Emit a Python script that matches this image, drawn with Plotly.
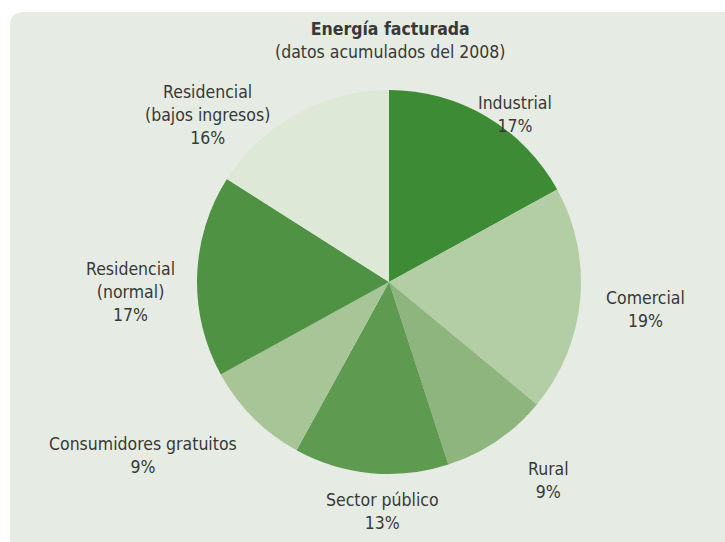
import plotly.graph_objects as go

# Billed energy by customer category, cumulative 2008 (percent)
categories = [
    "Industrial",
    "Comercial",
    "Rural",
    "Sector público",
    "Consumidores gratuitos",
    "Residencial<br>(normal)",
    "Residencial<br>(bajos ingresos)",
]
shares = [17, 19, 9, 13, 9, 17, 16]

slice_colors = ["#3d8b34", "#b3cda5", "#8fb57f", "#5e9a50", "#a7c597", "#4f9244", "#dee8d7"]

# Label anchor points (pixels from top-left) for each category
label_px = [(515, 114), (645, 309), (548, 480), (382, 511), (143, 455), (130, 292), (207, 115)]

W, H = 725, 542
FONT = "DejaVu Sans Condensed, Liberation Sans Narrow, Arial Narrow, sans-serif"
TEXT_COLOR = "#383838"
SIZE = 17.5

# pie geometry in pixels
cx, cy, r = 389, 282, 192

fig = go.Figure(
    go.Pie(
        labels=categories,
        values=shares,
        sort=False,
        direction="clockwise",
        rotation=0,
        marker=dict(colors=slice_colors, line=dict(width=0)),
        textinfo="none",
        hoverinfo="label+percent",
        showlegend=False,
        domain=dict(
            x=[(cx - r) / W, (cx + r) / W],
            y=[(H - cy - r) / H, (H - cy + r) / H],
        ),
    )
)

# rounded background panel
x0, y0, x1, y1, rad = 10 / W, 1 - 12 / H, 1.05, -0.05, 14
rx, ry = rad / W, rad / H
panel_path = (
    f"M {x0 + rx},{y0} L {x1},{y0} L {x1},{y1} L {x0},{y1} L {x0},{y0 - ry} "
    f"Q {x0},{y0} {x0 + rx},{y0} Z"
)
fig.add_shape(
    type="path", path=panel_path, xref="paper", yref="paper",
    fillcolor="#e6ece3", line=dict(width=0), layer="below",
)

annotations = [
    dict(x=390 / W, y=1 - 41 / H, xref="paper", yref="paper",
         text="<b>Energía facturada</b><br>(datos acumulados del 2008)",
         showarrow=False, font=dict(family=FONT, size=SIZE, color=TEXT_COLOR),
         xanchor="center", yanchor="middle", align="center"),
]
for name, val, (px, py) in zip(categories, shares, label_px):
    annotations.append(dict(
        x=px / W, y=1 - py / H, xref="paper", yref="paper",
        text=f"{name}<br>{val}%", showarrow=False,
        font=dict(family=FONT, size=SIZE, color=TEXT_COLOR),
        xanchor="center", yanchor="middle", align="center",
    ))

fig.update_layout(
    width=W, height=H,
    margin=dict(l=0, r=0, t=0, b=0),
    paper_bgcolor="white",
    plot_bgcolor="white",
    annotations=annotations,
)

fig.write_html("out.html")
